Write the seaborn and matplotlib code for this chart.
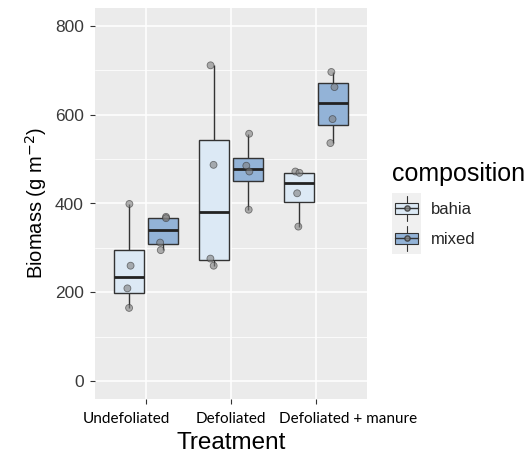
import numpy as np
import pandas as pd
import matplotlib
matplotlib.use("Agg")
import matplotlib.pyplot as plt
import seaborn as sns
from matplotlib.legend_handler import HandlerBase
from matplotlib.patches import Rectangle, Patch
from matplotlib.lines import Line2D
from matplotlib.ticker import MultipleLocator
from matplotlib.transforms import ScaledTranslation

treatments = ["Undefoliated", "Defoliated", "Defoliated + manure"]
compositions = ["bahia", "mixed"]
bahia_values = [[399, 260, 209, 165], [711, 487, 276, 260], [472, 469, 423, 348]]
mixed_values = [[370, 367, 312, 295], [557, 485, 472, 386], [696, 662, 590, 536]]
y_ticks = [0, 200, 400, 600, 800]

rows = []
for t, bv, mv in zip(treatments, bahia_values, mixed_values):
    for v in bv:
        rows.append((t, "bahia", v))
    for v in mv:
        rows.append((t, "mixed", v))
df = pd.DataFrame(rows, columns=["Treatment", "composition", "Biomass"])

fill = {"bahia": "#DCE9F5", "mixed": "#93B3D7"}
edge = "#333333"

sns.set_theme(style="white")
plt.rcParams["font.family"] = ["Liberation Sans", "DejaVu Sans"]

fig = plt.figure(figsize=(5.27, 4.53), dpi=100)
ax = fig.add_axes([95 / 527, 1 - 399 / 453, (367 - 95) / 527, (399 - 8) / 453])
ax.set_facecolor("#EBEBEB")

sns.boxplot(data=df, x="Treatment", y="Biomass", hue="composition",
            order=treatments, hue_order=compositions, palette=fill,
            saturation=1, width=0.8, gap=0.14, showfliers=False,
            showcaps=False, linewidth=1.0, linecolor=edge, whis=1.5,
            medianprops=dict(color="#222222", linewidth=2.0),
            legend=False, ax=ax, zorder=3)

np.random.seed(3)
sns.stripplot(data=df, x="Treatment", y="Biomass", hue="composition",
              order=treatments, hue_order=compositions,
              palette={"bahia": "#7F7F7F", "mixed": "#7F7F7F"},
              dodge=True, jitter=0.09, size=5, alpha=0.6,
              edgecolor="#333333", linewidth=0.6, legend=False, ax=ax, zorder=4)

ax.set_xlim(-0.6, 2.6)
ax.set_ylim(-40, 840)
ax.set_yticks(y_ticks)
ax.yaxis.set_minor_locator(MultipleLocator(100))
ax.grid(True, which="major", color="white", linewidth=1.1, zorder=0)
ax.grid(True, which="minor", axis="y", color="white", linewidth=0.55, zorder=0)
ax.set_axisbelow(True)
for s in ax.spines.values():
    s.set_visible(False)

ax.tick_params(axis="both", which="major", length=3.5, width=0.8, color="#333333",
               bottom=True, left=True)
ax.tick_params(axis="both", which="minor", length=0)
ax.tick_params(axis="y", labelsize=12.5, labelcolor="#3A3A3A", pad=4.5)
ax.tick_params(axis="x", labelsize=11, labelcolor="black", pad=6)

label_shift_px = [-20, 0, 32]
for lab, dx in zip(ax.get_xticklabels(), label_shift_px):
    lab.set_fontfamily(["Lato", "DejaVu Sans"])
    lab.set_transform(lab.get_transform() + ScaledTranslation(dx / 100, 0, fig.dpi_scale_trans))

ax.set_xlabel("Treatment", fontsize=17.5, color="black", labelpad=4)
ax.set_ylabel(r"Biomass (g m$^{-2}$)", fontsize=14.5, color="black", labelpad=4)


class HandlerBoxKey(HandlerBase):
    def __init__(self, fc):
        super().__init__()
        self.fc = fc

    def create_artists(self, legend, orig_handle, xdescent, ydescent, width,
                       height, fontsize, trans):
        arts = []
        pad = 1.1
        y0 = -ydescent - pad
        y1 = -ydescent + height + pad
        bg = Rectangle((-xdescent, y0), width, y1 - y0,
                       facecolor="#F0F0F0", edgecolor="none", transform=trans)
        arts.append(bg)
        cx = -xdescent + width / 2
        bw = width * 0.78
        bh = (y1 - y0) * 0.36
        cy = (y0 + y1) / 2
        by = cy - bh / 2
        arts.append(Line2D([cx, cx], [y0 + 2, by], color=edge, lw=0.8, transform=trans))
        arts.append(Line2D([cx, cx], [by + bh, y1 - 2], color=edge, lw=0.8, transform=trans))
        arts.append(Rectangle((cx - bw / 2, by), bw, bh, facecolor=self.fc,
                              edgecolor=edge, lw=0.8, transform=trans))
        arts.append(Line2D([cx - bw / 2, cx + bw / 2], [cy, cy],
                           color=edge, lw=1.0, transform=trans))
        arts.append(Line2D([cx], [cy], marker="o", markersize=3.8,
                           markerfacecolor="#7F7F7F", markeredgecolor="#333333",
                           alpha=0.8, linestyle="none", transform=trans))
        return arts


handles = [Patch(label=c) for c in compositions]
leg = fig.legend(handles=handles, labels=compositions,
                 handler_map={handles[0]: HandlerBoxKey(fill["bahia"]),
                              handles[1]: HandlerBoxKey(fill["mixed"])},
                 title="composition", loc="upper left",
                 bbox_to_anchor=(379 / 527, 1 - 149 / 453), frameon=False,
                 fontsize=12, title_fontsize=18, handlelength=1.7,
                 handleheight=2.16, handletextpad=0.6, labelspacing=0.15,
                 borderpad=0.3, alignment="left")
leg.get_title().set_color("black")
leg._legend_box.sep = 6

fig.savefig("out.png", dpi=100)
